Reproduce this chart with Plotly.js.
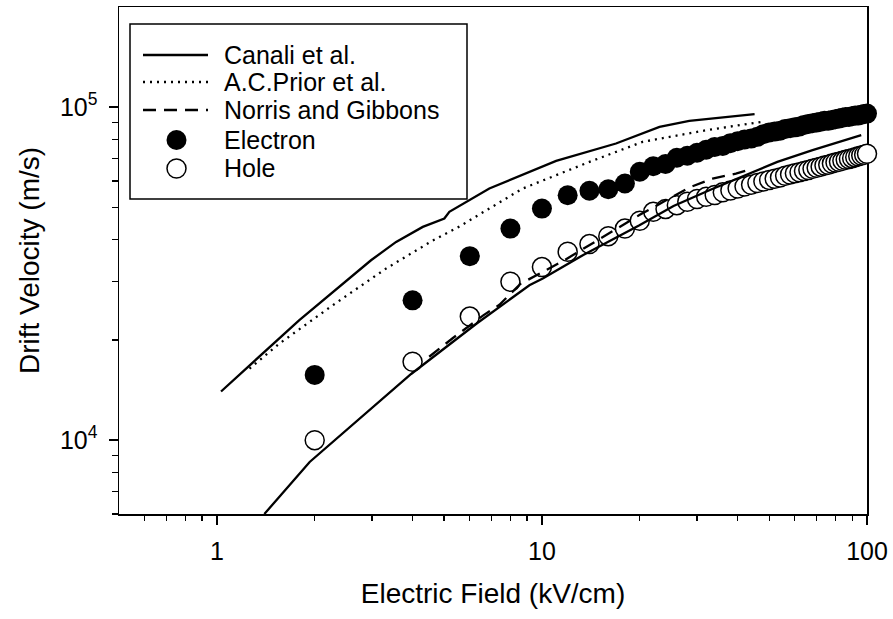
<!DOCTYPE html>
<html>
<head>
<meta charset="utf-8">
<script src="https://cdn.plot.ly/plotly-3.0.1.min.js"></script>
<style>
  html, body { margin: 0; padding: 0; background: #ffffff; }
  #chart { width: 893px; height: 619px; }
</style>
</head>
<body>
<div id="chart"></div>
<script>
// Measured drift velocities (m/s) against applied electric field (kV/cm)
const fieldPoints = [2, 4, 6, 8, 10, 12, 14, 16, 18, 20, 22, 24, 26, 28, 30, 32, 34, 36, 38, 40,
  42, 44, 46, 48, 50, 52, 54, 56, 58, 60, 62, 64, 66, 68, 70, 72, 74, 76, 78, 80,
  82, 84, 86, 88, 90, 92, 94, 96, 98, 100];

const electronVelocity = [15700, 26300, 35700, 43200, 49600, 54400, 56100, 56700, 59000, 64000,
  66500, 67500, 70500, 71500, 73000, 74500, 76000, 76500, 78000, 79000,
  80000, 80500, 81500, 83000, 84000, 84500, 85000, 86000, 86500, 87000,
  87500, 88500, 89000, 89500, 90000, 90500, 91000, 91000, 91500, 92000,
  92500, 93000, 93500, 93500, 94000, 94500, 94500, 95000, 95500, 95700];

const holeVelocity = [10000, 17200, 23500, 29900, 33100, 36800, 38800, 41000, 43200, 45600,
  48500, 49500, 50800, 52000, 53000, 53800, 54500, 55500, 56200, 57000,
  57800, 58500, 59200, 59800, 60500, 61000, 61500, 62200, 62800, 63300,
  63800, 64300, 64800, 65300, 65800, 66300, 66800, 67200, 67700, 68200,
  68600, 69000, 69500, 69900, 70300, 70800, 71200, 71600, 72000, 72500];

// Literature curves
const canaliElectronField = [1.03, 1.79, 2.98, 3.56, 4.30, 5.01, 5.19, 5.51, 6.89, 11.06, 16.9, 23.0, 28.4, 45.1];
const canaliElectronVelocity = [14000, 22900, 34700, 39400, 43700, 46300, 48500, 50200, 57000, 69000, 77800, 87300, 91000, 95300];

const canaliHoleField = [1.40, 1.93, 3.96, 6.3, 9.15, 10.06, 13.4, 19.95, 25.4, 33.0, 53.0, 68.0, 96.0];
const canaliHoleVelocity = [6000, 8600, 15800, 22400, 29200, 30600, 36000, 44200, 50500, 56500, 68500, 74300, 82400];

const priorField = [1.26, 1.557, 2.27, 3.32, 4.6, 5.5, 8.73, 14.0, 20.4, 32.0, 47.2];
const priorVelocity = [16400, 19500, 25400, 32800, 39700, 43500, 57000, 68500, 78700, 85300, 90300];

const norrisField = [4.5, 5.3, 6.6, 7.4, 8.6, 11.6, 20.0, 28.5, 33.5, 39.5, 44.5];
const norrisVelocity = [17800, 20200, 23700, 25500, 29500, 34500, 47500, 57500, 61000, 63200, 65400];

const seriesNames = ['Canali et al.', 'A.C.Prior et al.', 'Norris and Gibbons', 'Electron', 'Hole'];

const xTickVals = [1, 10, 100];
const xTickText = ['1', '10', '100'];
const xMinorVals = [0.6, 0.7, 0.8, 0.9, 2, 3, 4, 5, 6, 7, 8, 9, 20, 30, 40, 50, 60, 70, 80, 90];
const yTickVals = [1e4, 1e5];
const yTickText = ['10<sup>4</sup>', '10<sup>5</sup>'];
const yMinorVals = [6000, 7000, 8000, 9000, 20000, 30000, 40000, 50000, 60000, 70000, 80000, 90000];

const FONT = 'Liberation Sans, Arial, sans-serif';
const LW = 2.3;

const traces = [
  {
    x: fieldPoints, y: electronVelocity, name: seriesNames[3], type: 'scatter', mode: 'markers',
    cliponaxis: false,
    marker: { symbol: 'circle', size: 20, color: '#000000', line: { width: 0 } }
  },
  {
    x: fieldPoints, y: holeVelocity, name: seriesNames[4], type: 'scatter', mode: 'markers',
    cliponaxis: false,
    marker: { symbol: 'circle', size: 19, color: '#ffffff', line: { width: 1.5, color: '#000000' } }
  },
  {
    x: canaliElectronField, y: canaliElectronVelocity, name: seriesNames[0], type: 'scatter', mode: 'lines',
    line: { color: '#000000', width: LW }
  },
  {
    x: canaliHoleField, y: canaliHoleVelocity, name: seriesNames[0], type: 'scatter', mode: 'lines',
    line: { color: '#000000', width: LW }
  },
  {
    x: priorField, y: priorVelocity, name: seriesNames[1], type: 'scatter', mode: 'lines',
    line: { color: '#000000', width: LW, dash: '2px,5px' }
  },
  {
    x: norrisField, y: norrisVelocity, name: seriesNames[2], type: 'scatter', mode: 'lines',
    line: { color: '#000000', width: LW, dash: '13px,8px' }
  }
];

// Plot-area geometry (px) used to place the hand-built key
const PL = 119, PR = 867, PT = 7, PB = 514;
const px = v => (v - PL) / (PR - PL);
const py = v => (PB - v) / (PB - PT);

const keyRows = [55, 82, 110, 140, 168.5];
const keySampleX0 = 143, keySampleX1 = 208, keyMarkX = 176.5, keyTextX = 222;

const shapes = [
  { type: 'rect', xref: 'paper', yref: 'paper', x0: px(130), x1: px(467), y0: py(199), y1: py(24),
    line: { color: '#000000', width: 1.5 }, fillcolor: '#ffffff', layer: 'above' },
  { type: 'line', xref: 'paper', yref: 'paper', x0: px(keySampleX0), x1: px(keySampleX1), y0: py(keyRows[0]), y1: py(keyRows[0]),
    line: { color: '#000000', width: LW }, layer: 'above' },
  { type: 'line', xref: 'paper', yref: 'paper', x0: px(keySampleX0), x1: px(keySampleX1), y0: py(keyRows[1]), y1: py(keyRows[1]),
    line: { color: '#000000', width: LW, dash: '2px,5px' }, layer: 'above' },
  { type: 'line', xref: 'paper', yref: 'paper', x0: px(keySampleX0), x1: px(keySampleX1), y0: py(keyRows[2]), y1: py(keyRows[2]),
    line: { color: '#000000', width: LW, dash: '13px,8px' }, layer: 'above' },
  { type: 'circle', xref: 'paper', yref: 'paper', xsizemode: 'pixel', ysizemode: 'pixel',
    xanchor: px(keyMarkX), yanchor: py(keyRows[3]), x0: -10, x1: 10, y0: -10, y1: 10,
    fillcolor: '#000000', line: { width: 0 }, layer: 'above' },
  { type: 'circle', xref: 'paper', yref: 'paper', xsizemode: 'pixel', ysizemode: 'pixel',
    xanchor: px(keyMarkX), yanchor: py(keyRows[4]), x0: -9.5, x1: 9.5, y0: -9.5, y1: 9.5,
    fillcolor: '#ffffff', line: { color: '#000000', width: 1.5 }, layer: 'above' }
];

const annotations = seriesNames.map((name, i) => ({
  xref: 'paper', yref: 'paper', x: px(keyTextX), y: py(keyRows[i]),
  xanchor: 'left', yanchor: 'middle', showarrow: false, text: name,
  font: { family: FONT, size: 25, color: '#000000' }
}));

const layout = {
  width: 893, height: 619,
  margin: { l: PL, r: 893 - PR, t: PT, b: 619 - PB, pad: 0 },
  paper_bgcolor: '#ffffff', plot_bgcolor: '#ffffff',
  showlegend: false,
  font: { family: FONT, color: '#000000' },
  xaxis: {
    type: 'log', range: [Math.log10(0.5), 2],
    showgrid: false, zeroline: false,
    showline: true, mirror: true, linecolor: '#000000', linewidth: 1.5,
    ticks: 'outside', ticklen: 9, tickwidth: 1.5, tickcolor: '#000000',
    tickmode: 'array', tickvals: xTickVals, ticktext: xTickText,
    tickfont: { family: FONT, size: 25, color: '#000000' },
    ticklabelstandoff: 5,
    minor: { tickmode: 'array', tickvals: xMinorVals, ticks: 'outside', ticklen: 5, tickwidth: 1.2, tickcolor: '#000000', showgrid: false },
    title: { text: 'Electric Field (kV/cm)', font: { family: FONT, size: 28, color: '#000000' }, standoff: 20 },
    automargin: false, layer: 'below traces'
  },
  yaxis: {
    type: 'log', range: [Math.log10(6000), Math.log10(200000)],
    showgrid: false, zeroline: false,
    showline: true, mirror: true, linecolor: '#000000', linewidth: 1.5,
    ticks: 'outside', ticklen: 9, tickwidth: 1.5, tickcolor: '#000000',
    tickmode: 'array', tickvals: yTickVals, ticktext: yTickText,
    tickfont: { family: FONT, size: 25, color: '#000000' },
    ticklabelstandoff: 6,
    minor: { tickmode: 'array', tickvals: yMinorVals, ticks: 'outside', ticklen: 6, tickwidth: 1.2, tickcolor: '#000000', showgrid: false },
    title: { text: 'Drift Velocity (m/s)', font: { family: FONT, size: 28, color: '#000000' }, standoff: 12 },
    automargin: false, layer: 'below traces'
  },
  shapes: shapes,
  annotations: annotations
};

Plotly.newPlot('chart', traces, layout, { displayModeBar: false, staticPlot: true });
</script>
</body>
</html>
